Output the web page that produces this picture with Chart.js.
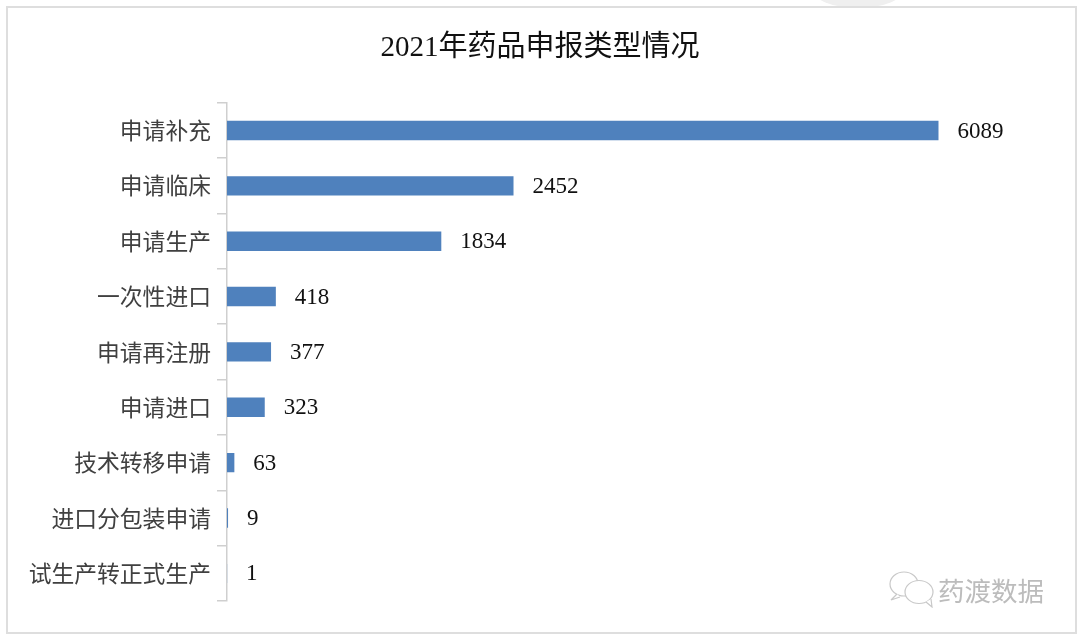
<!DOCTYPE html>
<html lang="zh">
<head>
<meta charset="utf-8">
<title>2021年药品申报类型情况</title>
<script src="https://cdn.jsdelivr.net/npm/chart.js@4/dist/chart.umd.min.js"></script>
<style>
  html, body { margin: 0; padding: 0; background: #fff; }
  #wrap { position: relative; width: 1080px; height: 637px; overflow: hidden; }
  #smudge { position: absolute; left: 812px; top: -30px; width: 92px; height: 38px; border-radius: 50%; background: #efefef; }
  #frame { position: absolute; left: 6px; top: 6px; width: 1067px; height: 624px; border: 2px solid #dedede; background: #fff; }
  #c { position: absolute; left: 0; top: 0; }
  #mark { position: absolute; left: 938px; top: 573px; font: 26.5px/34px "Noto Sans CJK SC", sans-serif; color: #bcbcbc; white-space: nowrap; }
  #icon { position: absolute; left: 886px; top: 568px; }
</style>
</head>
<body>
<div id="wrap">
  <div id="smudge"></div>
  <div id="frame"></div>
  <canvas id="c" width="1080" height="637"></canvas>
  <svg id="icon" width="50" height="40" viewBox="0 0 50 40" fill="#fff" stroke="#c8c8c8" stroke-width="1.2">
    <ellipse cx="18" cy="16" rx="14" ry="12"/>
    <ellipse cx="33" cy="24" rx="14" ry="11.5"/>
    <path d="M40 34l6 5-1-8" fill="#fff"/>
    <path d="M11 26l-6 6 9-3" fill="#fff"/>
  </svg>
  <div id="mark">药渡数据</div>
</div>
<script>
const categories = ['申请补充', '申请临床', '申请生产', '一次性进口', '申请再注册', '申请进口', '技术转移申请', '进口分包装申请', '试生产转正式生产'];
const counts = [6089, 2452, 1834, 418, 377, 323, 63, 9, 1];
const xMax = 7300;

const CJK = "'Liberation Serif', 'Noto Sans CJK SC', serif";

// value labels sit a fixed gap right of each bar end
const valueLabels = {
  id: 'valueLabels',
  afterDatasetsDraw(chart) {
    const { ctx } = chart;
    const meta = chart.getDatasetMeta(0);
    ctx.save();
    ctx.font = "23px 'Liberation Serif', serif";
    ctx.fillStyle = '#111';
    ctx.textBaseline = 'middle';
    ctx.textAlign = 'left';
    meta.data.forEach((bar, i) => ctx.fillText(String(counts[i]), bar.x + 19, bar.y + 1));
    ctx.restore();
  },
};

new Chart(document.getElementById('c'), {
  type: 'bar',
  data: {
    labels: categories,
    datasets: [{ data: counts, backgroundColor: '#4f81bd', borderWidth: 0, barPercentage: 0.35, categoryPercentage: 1 }],
  },
  options: {
    indexAxis: 'y',
    responsive: false, animation: false, devicePixelRatio: 1,
    layout: { padding: { bottom: 36 } },
    plugins: {
      legend: { display: false },
      tooltip: { enabled: false },
      title: {
        display: true, text: '2021年药品申报类型情况', color: '#111',
        font: { family: CJK, size: 29, weight: 'normal' },
        padding: { top: 31, bottom: 37 },
      },
    },
    scales: {
      x: { display: false, min: 0, max: xMax },
      y: {
        afterFit(s) { s.width = 227; },
        border: { color: '#cfcfcf', width: 1.5 },
        grid: { drawOnChartArea: false, color: '#cfcfcf', lineWidth: 1.5, tickLength: 10 },
        ticks: { color: '#404040', padding: 6, font: { family: "'Noto Sans CJK SC', sans-serif", size: 22.8 } },
      },
    },
  },
  plugins: [valueLabels],
});
</script>
</body>
</html>
